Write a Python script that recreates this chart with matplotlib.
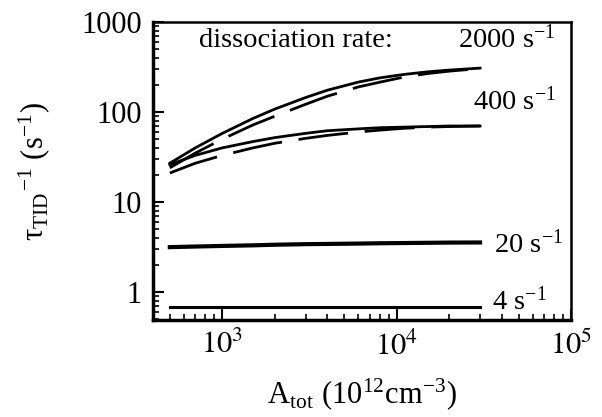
import matplotlib
matplotlib.use('Agg')
import matplotlib.pyplot as plt
import numpy as np

plt.rcParams['font.family'] = ['Liberation Serif', 'DejaVu Serif']
plt.rcParams['mathtext.fontset'] = 'stix'

# A_tot in 10^12 cm^-3
a_tot = [500, 700, 1000, 1500, 2000, 3000, 4000, 6000, 8000, 11000, 15000, 20000, 30000]

rate2000_solid = [27, 40, 58, 85, 108, 145, 175, 215, 240, 262, 280, 293, 308]
rate2000_dash = [24, 35, 50, 72, 90, 122, 150, 190, 215, 245, 268, 285, 305]
rate400_solid = [26, 33, 40, 47, 52, 58, 62, 65, 67, 68, 69, 70, 70]
rate400_dash = [21, 27, 33, 40, 45, 51, 55, 60, 63, 66, 68, 69, 70]
rate20 = [3.15, 3.2, 3.25, 3.3, 3.35, 3.4, 3.42, 3.45, 3.48, 3.5, 3.52, 3.54, 3.55]
rate4 = [0.68] * len(a_tot)

fig = plt.figure(figsize=(6.02, 4.17), dpi=100)
ax = fig.add_axes([0.254, 0.233, 0.695, 0.714])

ax.plot(a_tot, rate2000_solid, color='black', lw=2)
ax.plot(a_tot, rate2000_dash, color='black', lw=2, dashes=(18, 6))
ax.plot(a_tot, rate400_solid, color='black', lw=2)
ax.plot(a_tot, rate400_dash, color='black', lw=2, dashes=(18, 6))
ax.plot(a_tot, rate20, color='black', lw=3)
ax.plot(a_tot, rate4, color='black', lw=2.2)

ax.set_xscale('log')
ax.set_yscale('log')
ax.set_xlim(400, 1e5)
ax.set_ylim(0.49, 1000)

ax.set_xticks([1e3, 1e4, 1e5])
ax.set_xticklabels([r'$10^3$', r'$10^4$', r'$10^5$'])
ax.set_yticks([1, 10, 100, 1000])
ax.set_yticklabels(['1', '10', '100', '1000'])

ax.tick_params(which='major', direction='in', length=8, width=1.5,
               labelsize=22, pad=8, top=False, right=False)
ax.tick_params(which='minor', direction='in', length=4, width=1.2,
               top=False, right=False)
for s in ['left', 'bottom']:
    ax.spines[s].set_linewidth(2.5)
for s in ['top', 'right']:
    ax.spines[s].set_linewidth(1.8)

sup = r'$^{\mathregular{-1}}$'
ax.text(0.11, 0.915, 'dissociation rate:', transform=ax.transAxes, fontsize=20.5)
ax.text(0.73, 0.915, '2000 s' + sup, transform=ax.transAxes, fontsize=20.5)
ax.text(0.765, 0.705, '400 s' + sup, transform=ax.transAxes, fontsize=20.5)
ax.text(0.815, 0.225, '20 s' + sup, transform=ax.transAxes, fontsize=20.5)
ax.text(0.81, 0.035, '4 s' + sup, transform=ax.transAxes, fontsize=20.5)

ax.set_xlabel(r'A$_{\mathregular{tot}}$ (10$^{\mathregular{12}}$cm$^{\mathregular{-3}}$)',
              fontsize=22, labelpad=11)
ax.set_ylabel('τ' + r'$_{\mathregular{TID}}$$^{\mathregular{-1}}$ (s$^{\mathregular{-1}}$)',
              fontsize=22, labelpad=20)

fig.savefig('out.png', dpi=100)
